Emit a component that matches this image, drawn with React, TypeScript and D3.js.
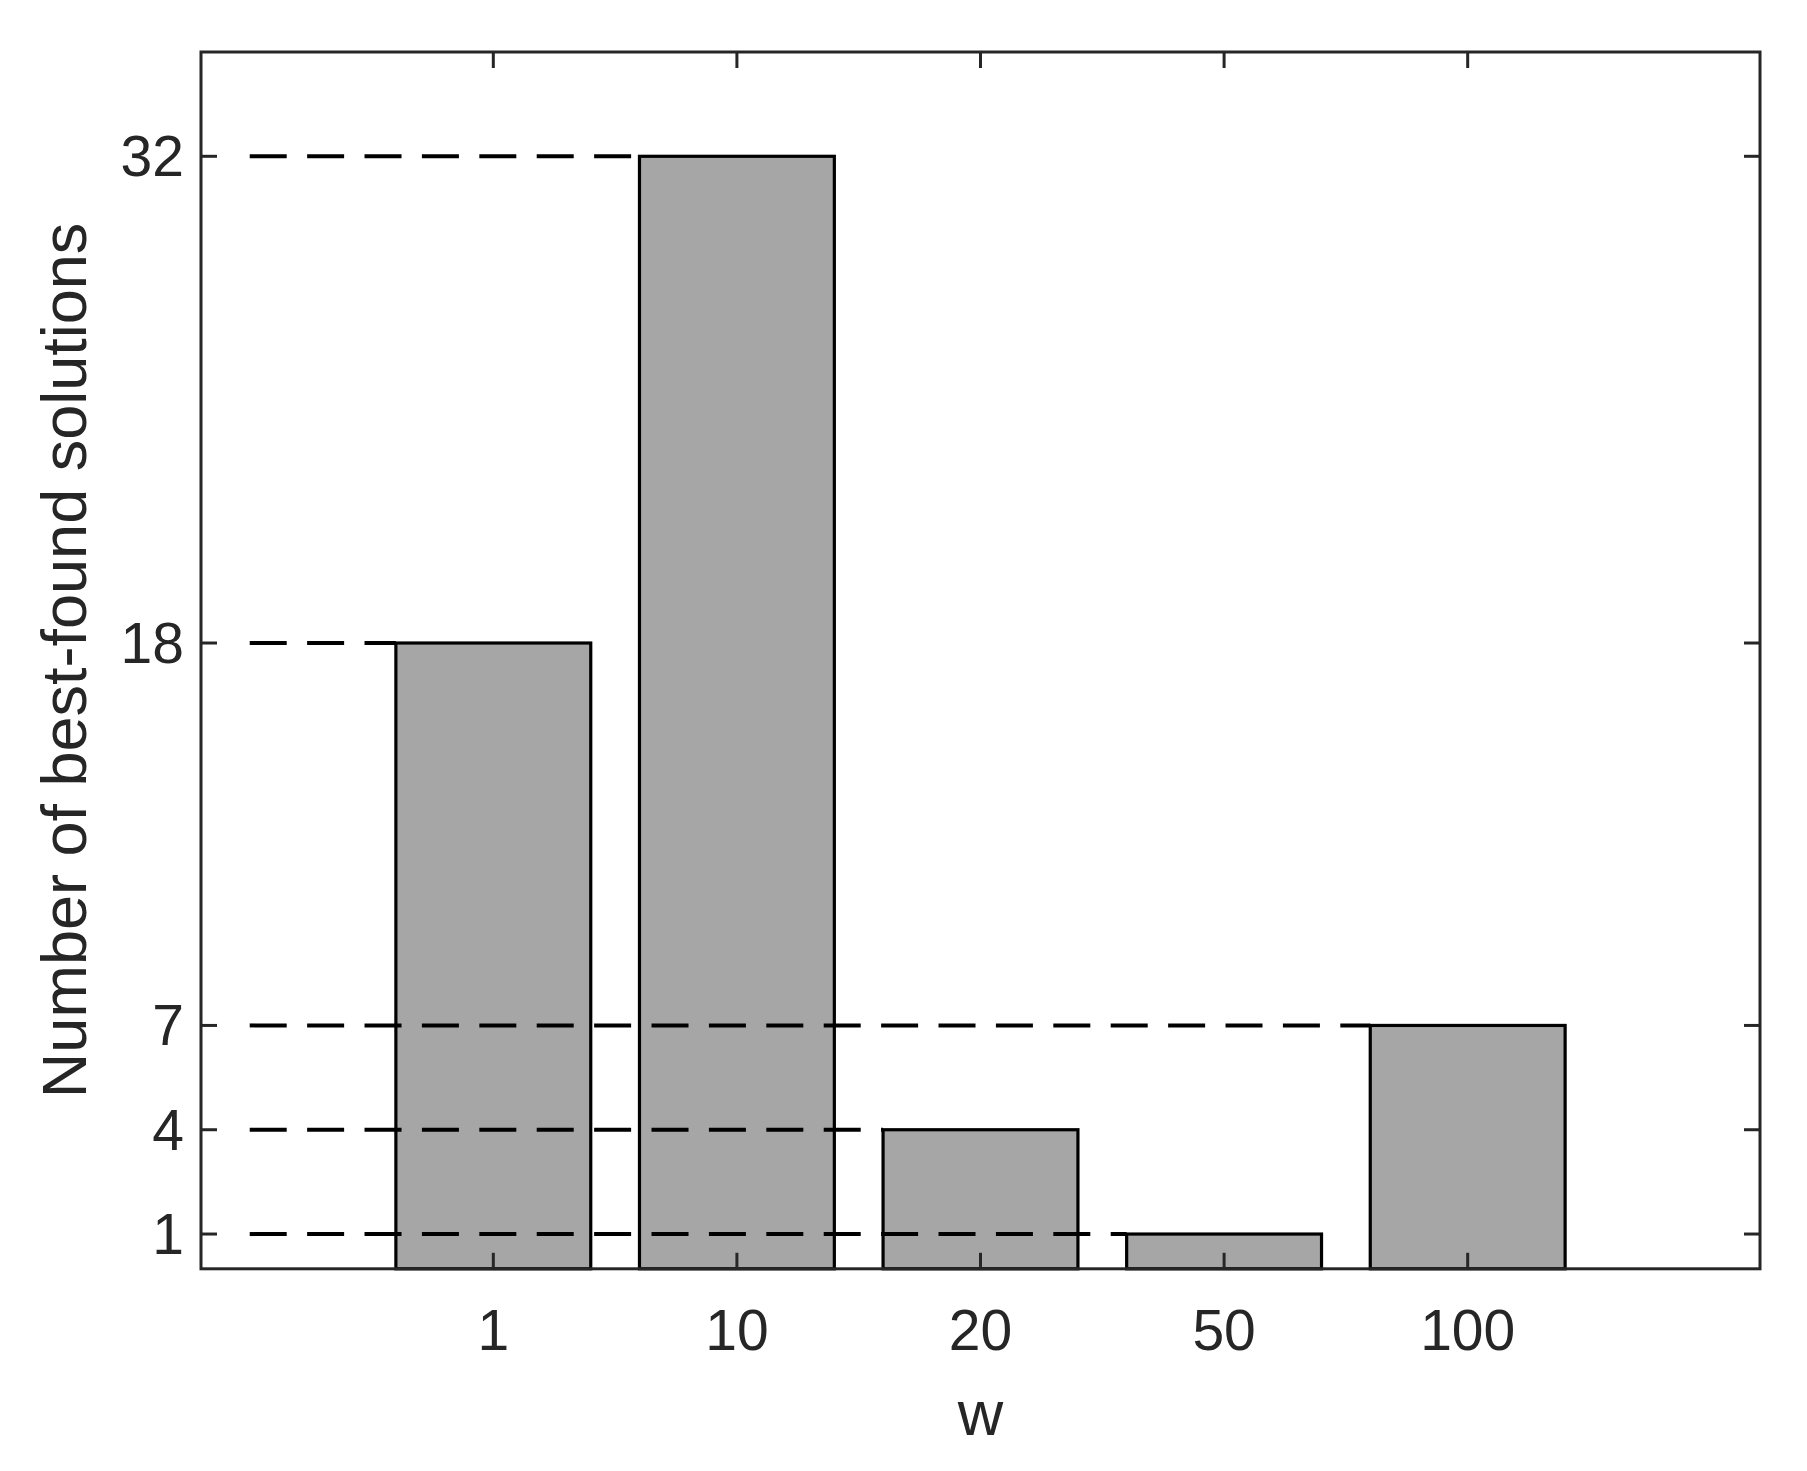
import React from "react";
import * as d3 from "d3";

const categories = ["1", "10", "20", "50", "100"];
const counts = [18, 32, 4, 1, 7];
const yTickValues = [1, 4, 7, 18, 32];
const xLabel = "w";
const yLabel = "Number of best-found solutions";

const W = 1807;
const H = 1471;
const left = 201;
const right = 1760;
const top = 52;
const bottom = 1268.8;

export default function App() {
  const x = d3.scaleLinear().domain([-0.2, 6.2]).range([left, right]);
  const y = d3.scaleLinear().domain([0, 35]).range([bottom, top]);
  const positions = categories.map((_, i) => i + 1);
  const barW = 0.8;
  const axisColor = "#262626";
  const tickLen = 16;
  const font = "Arial, 'Liberation Sans', Helvetica, sans-serif";

  return (
    <svg
      width={W}
      height={H}
      style={{ position: "absolute", left: 0, top: 0, background: "#fff" }}
      fontFamily={font}
    >
      <rect x={0} y={0} width={W} height={H} fill="#fff" />
      {/* bars */}
      {counts.map((v, i) => (
        <rect
          key={"b" + i}
          x={x(positions[i] - barW / 2)}
          y={y(v)}
          width={x(positions[i] + barW / 2) - x(positions[i] - barW / 2)}
          height={y(0) - y(v)}
          fill="#a6a6a6"
          stroke="#000"
          strokeWidth={3.2}
        />
      ))}
      {/* dashed reference lines */}
      {counts.map((v, i) => (
        <line
          key={"d" + i}
          x1={x(0)}
          x2={x(positions[i] - barW / 2)}
          y1={y(v)}
          y2={y(v)}
          stroke="#000"
          strokeWidth={4}
          strokeDasharray="37 20.4"
        />
      ))}
      {/* axes box */}
      <rect
        x={left}
        y={top}
        width={right - left}
        height={bottom - top}
        fill="none"
        stroke={axisColor}
        strokeWidth={3}
      />
      {/* y ticks */}
      {yTickValues.map((t) => (
        <g key={"yt" + t}>
          <line x1={left} x2={left + tickLen} y1={y(t)} y2={y(t)} stroke={axisColor} strokeWidth={3} />
          <line x1={right} x2={right - tickLen} y1={y(t)} y2={y(t)} stroke={axisColor} strokeWidth={3} />
          <text x={184} y={y(t) + 20} textAnchor="end" fontSize={57} fill={axisColor}>
            {t}
          </text>
        </g>
      ))}
      {/* x ticks */}
      {categories.map((c, i) => (
        <g key={"xt" + c}>
          <line x1={x(positions[i])} x2={x(positions[i])} y1={bottom} y2={bottom - tickLen} stroke={axisColor} strokeWidth={3} />
          <line x1={x(positions[i])} x2={x(positions[i])} y1={top} y2={top + tickLen} stroke={axisColor} strokeWidth={3} />
          <text x={x(positions[i])} y={1350} textAnchor="middle" fontSize={57} fill={axisColor}>
            {c}
          </text>
        </g>
      ))}
      {/* labels */}
      <text x={(left + right) / 2} y={1435} textAnchor="middle" fontSize={63} fill={axisColor}>
        {xLabel}
      </text>
      <text
        transform={`translate(86, ${(top + bottom) / 2}) rotate(-90)`}
        textAnchor="middle"
        fontSize={63}
        fill={axisColor}
      >
        {yLabel}
      </text>
    </svg>
  );
}
